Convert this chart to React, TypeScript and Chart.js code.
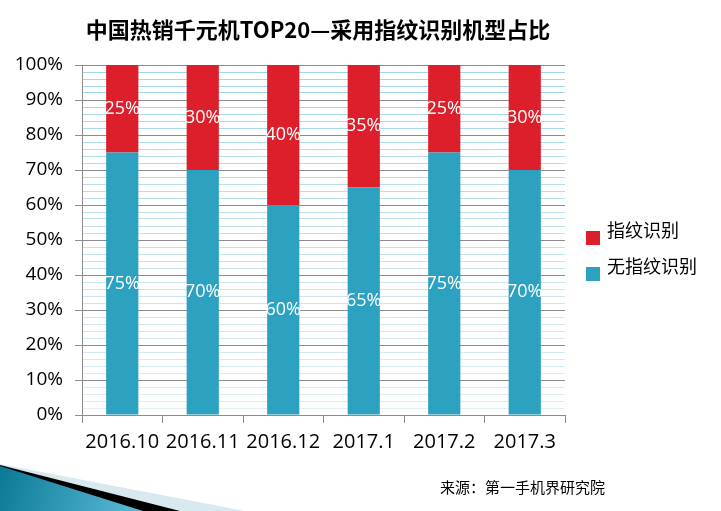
import React, { useEffect, useRef } from 'react';
import { Chart, registerables } from 'chart.js';
import type { Plugin } from 'chart.js';

Chart.register(...registerables);

const categories = ['2016.10', '2016.11', '2016.12', '2017.1', '2017.2', '2017.3'];
const withFingerprint = [25, 30, 40, 35, 25, 30];
const withoutFingerprint = [75, 70, 60, 65, 75, 70];
const seriesNames = ['指纹识别', '无指纹识别'];

const titleText = '中国热销千元机TOP20—采用指纹识别机型占比';
const sourceText = '来源：第一手机界研究院';

const RED = '#dc1f2b';
const BLUE = '#2ca2c0';
const FONT = '"Open Sans", "DejaVu Sans", sans-serif';
const CJK = '"Noto Sans CJK SC", sans-serif';

// helle Hilfslinien, oben kräftiger, unten blasser
function minorColor(v: number) {
  const t = v / 100;
  const a = [226, 238, 243];
  const b = [160, 214, 232];
  const c = a.map((x, i) => Math.round(x + (b[i] - x) * t));
  return `rgb(${c[0]},${c[1]},${c[2]})`;
}

const decoPlugin: Plugin<'bar'> = {
  id: 'deco',
  afterDraw(chart) {
    const ctx = chart.ctx;
    ctx.save();

    // Titel
    ctx.fillStyle = '#000';
    ctx.font = `bold 22px ${CJK}`;
    ctx.textAlign = 'center';
    ctx.textBaseline = 'middle';
    ctx.fillText(titleText, 318, 30);

    // Werte in den Balken
    ctx.font = `18px ${FONT}`;
    ctx.fillStyle = '#fff';
    chart.data.datasets.forEach((ds, i) => {
      const meta = chart.getDatasetMeta(i);
      meta.data.forEach((bar: any, j) => {
        const v = ds.data[j] as number;
        ctx.fillText(`${v}%`, bar.x, (bar.y + bar.base) / 2);
      });
    });

    // Legende
    const items = [
      { label: seriesNames[0], color: RED, y: 231, ty: 230 },
      { label: seriesNames[1], color: BLUE, y: 267, ty: 266 }
    ];
    ctx.textAlign = 'left';
    ctx.font = `18px ${CJK}`;
    items.forEach(it => {
      ctx.fillStyle = it.color;
      ctx.fillRect(586, it.y, 14, 14);
      ctx.fillStyle = '#000';
      ctx.fillText(it.label, 607, it.ty);
    });

    // Quelle
    ctx.font = `15px ${CJK}`;
    ctx.fillText(sourceText, 440, 487);

    // Deko unten links
    ctx.fillStyle = '#d9e9f0';
    ctx.beginPath();
    ctx.moveTo(0, 464); ctx.lineTo(245, 511); ctx.lineTo(0, 511); ctx.closePath();
    ctx.fill();
    ctx.fillStyle = '#000';
    ctx.beginPath();
    ctx.moveTo(0, 465); ctx.lineTo(180, 511); ctx.lineTo(0, 511); ctx.closePath();
    ctx.fill();
    const g = ctx.createLinearGradient(0, 470, 140, 511);
    g.addColorStop(0, '#0b7a95');
    g.addColorStop(1, '#5cbbd7');
    ctx.fillStyle = g;
    ctx.beginPath();
    ctx.moveTo(0, 466); ctx.lineTo(143, 511); ctx.lineTo(0, 511); ctx.closePath();
    ctx.fill();

    ctx.restore();
  }
};

const App: React.FC = () => {
  const canvasRef = useRef<HTMLCanvasElement | null>(null);

  useEffect(() => {
    document.body.style.margin = '0';
    const ctx = canvasRef.current?.getContext('2d');
    if (!ctx) return;

    const chart = new Chart(ctx, {
      type: 'bar',
      data: {
        labels: categories,
        datasets: [
          { label: seriesNames[1], data: withoutFingerprint, backgroundColor: BLUE },
          { label: seriesNames[0], data: withFingerprint, backgroundColor: RED }
        ]
      },
      options: {
        animation: false,
        responsive: true,
        maintainAspectRatio: false,
        layout: { padding: { left: 0, right: 156, top: 65, bottom: 36 } },
        datasets: { bar: { categoryPercentage: 1, barPercentage: 0.4 } },
        plugins: { legend: { display: false }, tooltip: { enabled: false } },
        scales: {
          x: {
            stacked: true,
            border: { color: '#8c8c8c' },
            grid: { drawOnChartArea: false, drawTicks: true, tickLength: 8, color: '#8c8c8c' },
            ticks: { color: '#000', font: { family: FONT, size: 20 }, padding: 7, maxRotation: 0 },
            afterFit: (s: any) => { s.height = 60; }
          },
          y: {
            stacked: true,
            min: 0,
            max: 100,
            border: { color: '#8c8c8c' },
            grid: {
              color: (c: any) => (c.tick.value % 10 === 0 ? '#8c8c8c' : minorColor(c.tick.value)),
              tickColor: (c: any) => (c.tick.value % 10 === 0 ? '#8c8c8c' : 'rgba(0,0,0,0)'),
              tickLength: 7
            },
            ticks: {
              stepSize: 2,
              autoSkip: false,
              color: '#000',
              padding: 12,
              font: { family: FONT, size: 19 },
              callback: (v: any) => (Number(v) % 10 === 0 ? `${v}%` : '')
            },
            afterFit: (s: any) => { s.width = 82; }
          }
        }
      },
      plugins: [decoPlugin]
    });

    return () => chart.destroy();
  }, []);

  return (
    <div style={{ position: 'relative', width: 721, height: 511, background: '#fff' }}>
      <canvas ref={canvasRef} />
    </div>
  );
};

export default App;
